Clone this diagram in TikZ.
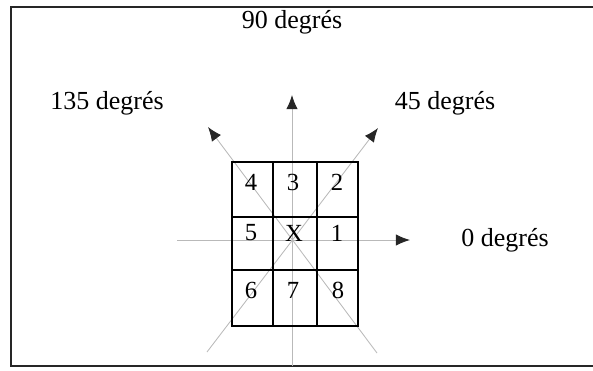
\documentclass[tikz,border=0pt]{standalone}
\usepackage{fontspec}
\setmainfont{Liberation Serif}
\usetikzlibrary{arrows.meta,calc,positioning}

\tikzset{
  ray/.style={gray!55,line width=0.6pt,-{Latex[length=10pt,width=8pt,black!85]}},
  cellnum/.style={font=\fontsize{17.5}{17.5}\selectfont,inner sep=0pt},
  lab/.style={font=\fontsize{18.5}{18.5}\selectfont,inner sep=0pt}
}

\begin{document}
\begin{tikzpicture}[x=0.025cm,y=-0.025cm]
\useasboundingbox (0,0) rectangle (593,370);
% frame (open on the right)
\draw[line width=1.8pt,black!85] (600,7) -- (11,7) -- (11,366) -- (600,366);

% directions
\coordinate (o) at (292,240);
\coordinate (t0) at (410,240);   \coordinate (s0) at (177,240);
\coordinate (t90) at (292,95);   \coordinate (s90) at (292,366);
\coordinate (t45) at (378,128);  \coordinate (s45) at (207,352);
\coordinate (t135) at (208,127); \coordinate (s135) at (377,353);

\draw[ray] (s0) -- (t0);
\draw[ray] (s90) -- (t90);
\draw[ray] (s45) -- (t45);
\draw[ray] (s135) -- (t135);

% grid
\draw[line width=1.1pt] (232,162) rectangle (358,326);
\draw[line width=0.9pt] (273,162) -- (273,326) (317,162) -- (317,326);
\draw[line width=0.9pt] (232,217) -- (358,217) (232,270) -- (358,270);

\node[cellnum] (n4) at (251,182) {4};
\node[cellnum] (n3) at (293,182) {3};
\node[cellnum] (n2) at (337,182) {2};
\node[cellnum] (n5) at (251,233) {5};
\node[cellnum] (nX) at (294,233) {X};
\node[cellnum] (n1) at (337,233) {1};
\node[cellnum] (n6) at (251,290) {6};
\node[cellnum] (n7) at (293,290) {7};
\node[cellnum] (n8) at (338,290) {8};

% labels
\node[lab] (l90) at (292,22) {90 degrés};
\node[lab] (l135) at (107,103) {135 degrés};
\node[lab] (l45) at (445,103) {45 degrés};
\node[lab] (l0) at (505,240) {0 degrés};
\end{tikzpicture}
\end{document}
